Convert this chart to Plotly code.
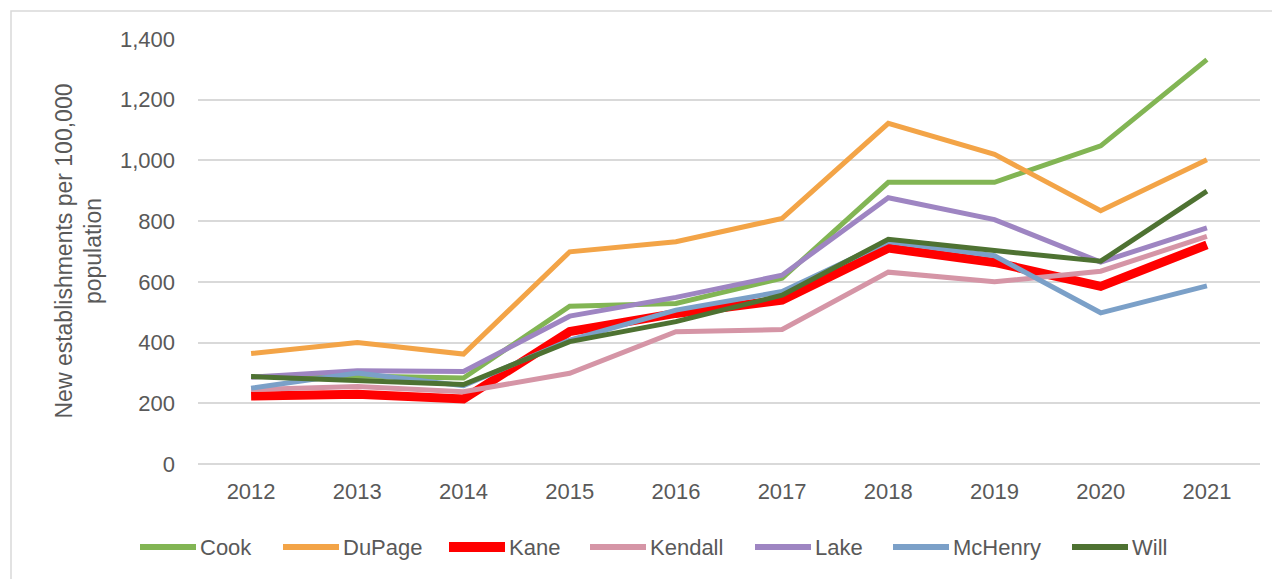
import plotly.graph_objects as go

years = ["2012", "2013", "2014", "2015", "2016", "2017", "2018", "2019", "2020", "2021"]
cook = [288, 290, 283, 520, 529, 612, 928, 928, 1048, 1332]
dupage = [364, 400, 362, 699, 732, 809, 1122, 1020, 834, 1002]
kane = [224, 230, 214, 436, 496, 540, 711, 664, 585, 722]
kendall = [245, 255, 238, 299, 436, 443, 632, 600, 635, 750]
lake = [286, 307, 305, 487, 549, 622, 877, 805, 665, 778]
mchenry = [250, 300, 258, 408, 507, 568, 733, 686, 498, 587]
will = [288, 277, 262, 403, 469, 556, 740, 703, 668, 899]

series = [
    ("Cook", cook, "#82b554", 5),
    ("DuPage", dupage, "#f3a447", 5),
    ("Kane", kane, "#ff0000", 9),
    ("Kendall", kendall, "#d595a6", 5),
    ("Lake", lake, "#9e85c2", 5),
    ("McHenry", mchenry, "#7ba0c8", 5),
    ("Will", will, "#4e7232", 5),
]

# layout geometry (screen pixels; page body has an 8px margin)
OFF = 8
W, H = 1280 - OFF, 579 - OFF
PLOT_L, PLOT_R, PLOT_T, PLOT_B = 198, 1260, 39, 464
ML, MT = PLOT_L - OFF, PLOT_T - OFF
MR, MB = W + OFF - PLOT_R, H + OFF - PLOT_B
PW, PH = PLOT_R - PLOT_L, PLOT_B - PLOT_T
legend_line_x = [140, 283, 449, 590, 755, 893, 1072]
legend_y_px = 547
legend_line_len = 56

def px_x(x):
    return (x - PLOT_L) / PW

def px_y(y):
    return (PLOT_B - y) / PH

fig = go.Figure()
for name, vals, color, w in series:
    fig.add_trace(go.Scatter(x=years, y=vals, name=name, mode="lines",
                             line=dict(color=color, width=w)))

font_fam = "Liberation Sans, Arial, sans-serif"
grey = "#595959"

shapes = [dict(type="rect", xref="paper", yref="paper",
               x0=px_x(11), x1=px_x(1300), y0=px_y(600), y1=px_y(11),
               line=dict(color="#d9d9d9", width=1.5), fillcolor="rgba(0,0,0,0)", layer="below")]
annotations = [dict(text="New establishments per 100,000<br>population", xref="paper", yref="paper",
                    x=px_x(78), y=0.5, textangle=-90, showarrow=False,
                    font=dict(size=23, color=grey), xanchor="center", yanchor="middle")]
for (name, vals, color, w), lx in zip(series, legend_line_x):
    shapes.append(dict(type="line", xref="paper", yref="paper",
                       x0=px_x(lx), x1=px_x(lx + legend_line_len),
                       y0=px_y(legend_y_px), y1=px_y(legend_y_px),
                       line=dict(color=color, width=w + 1)))
    annotations.append(dict(text=name, xref="paper", yref="paper",
                            x=px_x(lx + legend_line_len + 2), y=px_y(legend_y_px),
                            xanchor="left", yanchor="middle", showarrow=False,
                            font=dict(size=22, color=grey)))

fig.update_layout(
    width=W, height=H,
    paper_bgcolor="white", plot_bgcolor="white",
    margin=dict(l=ML, r=MR, t=MT, b=MB, autoexpand=False),
    font=dict(family=font_fam, size=22, color=grey),
    showlegend=False,
    xaxis=dict(type="category", range=[-0.5, 9.5], showgrid=False, showline=False, ticks="",
               ticklabelstandoff=12, automargin=False,
               tickfont=dict(size=22, color=grey)),
    yaxis=dict(range=[0, 1400], dtick=200, tickformat=",", showgrid=True,
               gridcolor="#d9d9d9", gridwidth=1.5, zeroline=True, zerolinecolor="#d9d9d9",
               zerolinewidth=1.5, ticks="", ticklabelstandoff=22, automargin=False,
               tickfont=dict(size=22, color=grey)),
    shapes=shapes,
    annotations=annotations,
)

fig.write_html("out.html")
